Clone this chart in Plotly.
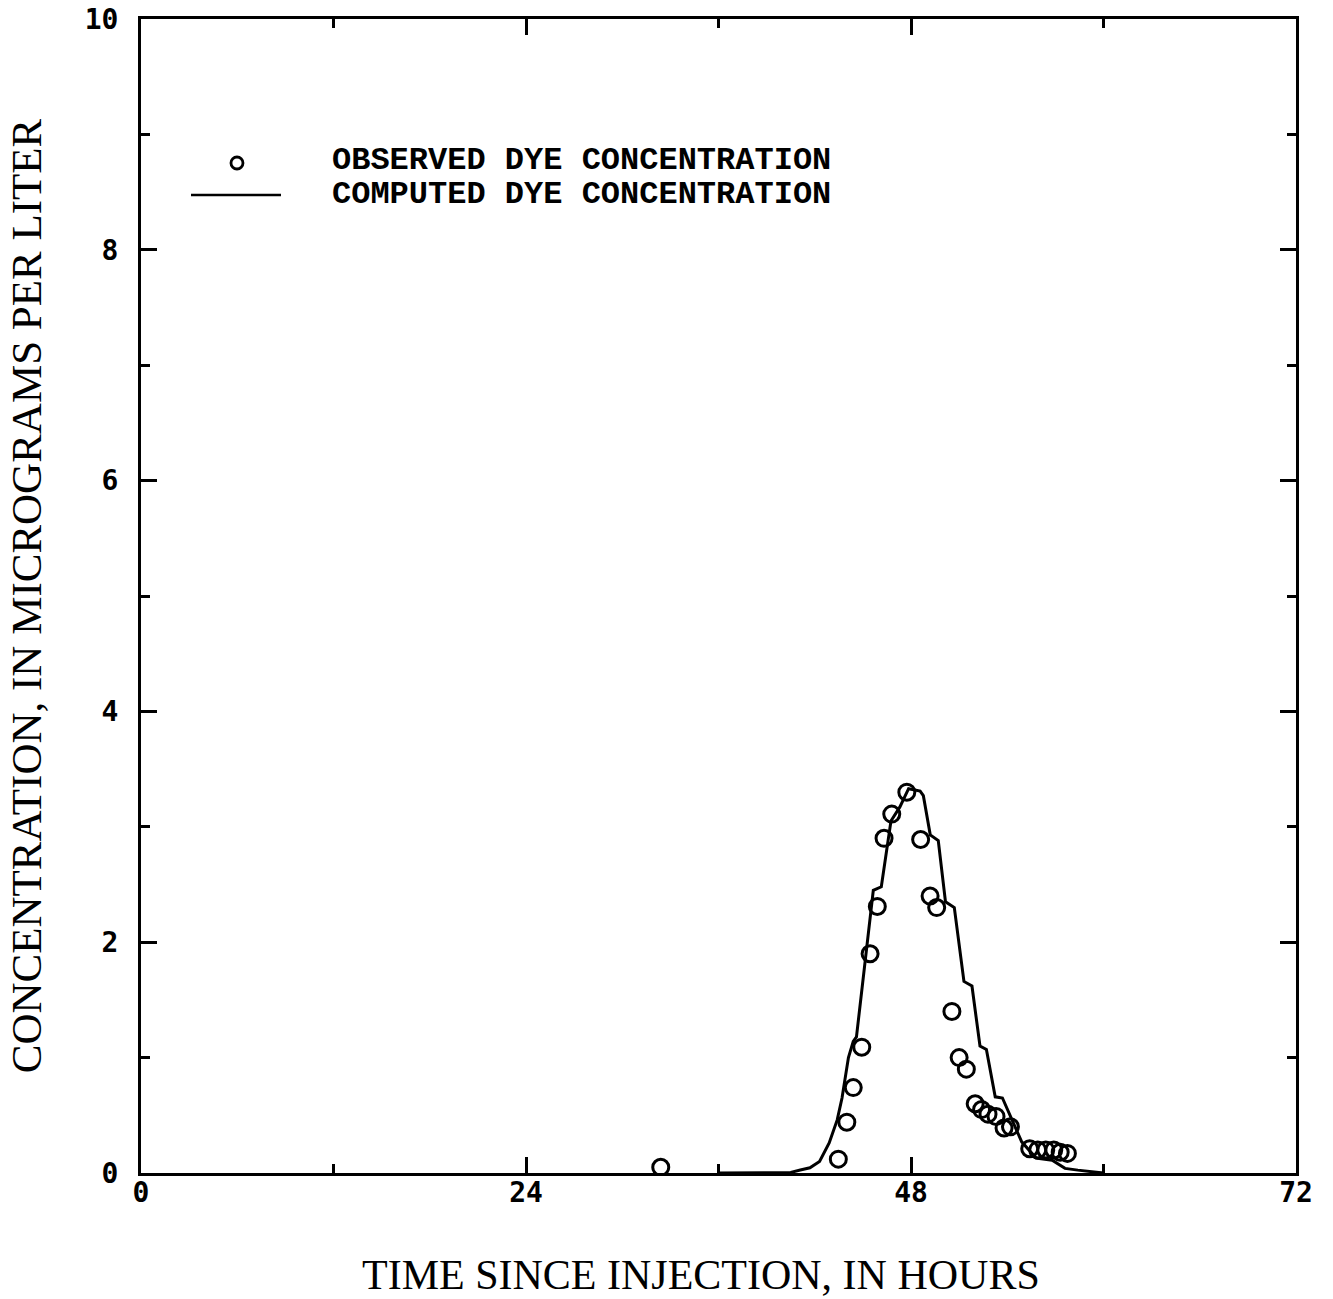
import plotly.graph_objects as go

# ---- data ----
obs_hours = [32.4, 43.47, 44.0, 44.4, 44.93, 45.45, 45.9, 46.32, 46.8, 47.74,
             48.6, 49.19, 49.6, 50.55, 51.0, 51.45, 52.0, 52.4, 52.8, 53.3,
             53.8, 54.2, 55.4, 55.9, 56.4, 56.9, 57.3, 57.75]
obs_conc = [0.05, 0.12, 0.44, 0.74, 1.09, 1.9, 2.31, 2.9, 3.11, 3.30,
            2.89, 2.40, 2.30, 1.40, 1.00, 0.90, 0.60, 0.55, 0.51, 0.49,
            0.39, 0.40, 0.21, 0.20, 0.20, 0.20, 0.18, 0.17]

comp_hours = [36.0, 39.5, 40.5, 41.1, 41.7, 42.3, 42.9, 43.4, 43.7, 44.1, 44.4,
              44.6, 45.65, 46.15, 46.58, 46.75, 47.3, 47.85, 48.57, 48.77,
              49.2, 49.7, 50.15, 50.7, 51.3, 51.8, 52.3, 52.7, 53.25, 53.7,
              54.9, 55.8, 56.8, 57.6, 58.4, 59.2, 60.0]
comp_conc = [0.0, 0.0, 0.005, 0.026, 0.045, 0.10, 0.26, 0.46, 0.65, 1.0, 1.14,
             1.18, 2.45, 2.48, 2.92, 3.05, 3.17, 3.33, 3.31, 3.27,
             2.93, 2.88, 2.35, 2.30, 1.66, 1.62, 1.10, 1.07, 0.66, 0.65,
             0.27, 0.13, 0.11, 0.04, 0.025, 0.01, 0.0]

x_ticks = [0, 24, 48, 72]
y_ticks = [0, 2, 4, 6, 8, 10]

legend_labels = ["OBSERVED DYE CONCENTRATION", "COMPUTED DYE CONCENTRATION"]
x_title = "TIME SINCE INJECTION, IN HOURS"
y_title = "CONCENTRATION, IN MICROGRAMS PER LITER"

fig = go.Figure()
fig.add_trace(go.Scatter(x=comp_hours, y=comp_conc, mode="lines",
                         line=dict(color="black", width=3),
                         name=legend_labels[1], showlegend=False))
fig.add_trace(go.Scatter(x=obs_hours, y=obs_conc, mode="markers",
                         marker=dict(symbol="circle-open", size=16, color="black",
                                     line=dict(width=3, color="black")),
                         name=legend_labels[0], showlegend=False))

tickfont = dict(family="DejaVu Sans Mono", size=28, color="black", weight="bold")
axis_common = dict(showline=True, linecolor="black", linewidth=3, mirror="ticks",
                   ticks="inside", tickcolor="black", tickwidth=2.5, ticklen=16,
                   showgrid=False, zeroline=False, tickfont=tickfont,
                   automargin=False)

fig.update_xaxes(range=[0, 72], tickvals=x_ticks, ticktext=[str(v) for v in x_ticks],
                 minor=dict(ticks="inside", dtick=12, tick0=0, ticklen=9,
                            tickwidth=2.5, tickcolor="black", showgrid=False),
                 ticklabelstandoff=-8,
                 **axis_common)
fig.update_yaxes(range=[0, 10], tickvals=y_ticks, ticktext=[str(v) for v in y_ticks],
                 minor=dict(ticks="inside", dtick=1, tick0=0, ticklen=9,
                            tickwidth=2.5, tickcolor="black", showgrid=False),
                 title=dict(text=y_title, standoff=30,
                            font=dict(family="Liberation Serif", size=43, color="black")),
                 ticklabelstandoff=14,
                 **axis_common)

# x-axis title (placed slightly left of centre as in the reference)
fig.add_annotation(xref="paper", yref="paper", x=0.485, y=-0.0884, xanchor="center",
                   yanchor="middle", text=x_title, showarrow=False,
                   font=dict(family="Liberation Serif", size=42, color="black"))

legfont = dict(family="Liberation Mono", size=32, color="black", weight="bold")
fig.add_annotation(xref="paper", yref="paper", x=0.1636, y=0.8770, xanchor="left",
                   yanchor="middle", text=legend_labels[0], showarrow=False, font=legfont)
fig.add_annotation(xref="paper", yref="paper", x=0.1636, y=0.8475, xanchor="left",
                   yanchor="middle", text=legend_labels[1], showarrow=False, font=legfont)
fig.add_shape(type="circle", xref="paper", yref="paper", xsizemode="pixel",
              ysizemode="pixel", xanchor=0.0831, yanchor=0.8752,
              x0=-6, x1=6, y0=-6, y1=6, line=dict(color="black", width=2.8))
fig.add_shape(type="line", xref="paper", yref="paper", x0=0.0433, x1=0.1212,
              y0=0.8475, y1=0.8475, line=dict(color="black", width=2.4))

fig.update_layout(width=1333, height=1299,
                  margin=dict(l=141, r=37, t=19, b=126),
                  paper_bgcolor="white", plot_bgcolor="white",
                  showlegend=False)

fig.write_html("out.html")
